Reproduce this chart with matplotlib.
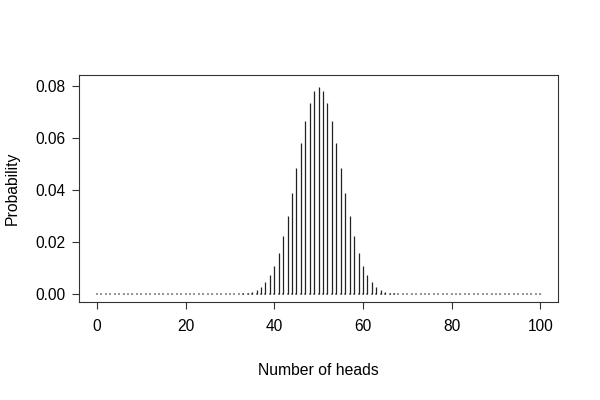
"""Binomial(100, 0.5) probability mass function drawn as histogram-like spikes."""
import matplotlib

matplotlib.use("Agg")
import matplotlib.pyplot as plt

# Number of heads 0..100
heads = list(range(101))

# Probabilities (symmetric around 50)
half_probs = [
    0.0, 0.0, 0.0, 0.0, 0.0, 0.0, 0.0, 0.0, 0.0, 0.0,
    0.0, 0.0, 0.0, 0.0, 0.0, 0.0, 0.0, 0.0, 0.0, 0.0,
    0.0, 0.0, 0.0, 0.0, 0.0, 0.000001, 0.000001, 0.000002, 0.000004, 0.000010,
    0.000023, 0.000053, 0.000113, 0.000233, 0.000458, 0.000864, 0.001563, 0.002700,
    0.004473, 0.007111, 0.010844, 0.015869, 0.022292, 0.030069, 0.038953, 0.048474,
    0.057958, 0.066572, 0.073527, 0.078029,
]
peak = [0.079589]
probs = half_probs + peak + half_probs[::-1]

plt.rcParams["font.family"] = ["Liberation Sans", "DejaVu Sans"]

fig = plt.figure(figsize=(6, 4), dpi=100)
ax = fig.add_axes([0.132, 0.245, 0.798, 0.5675])

ax.vlines(heads, 0, probs, colors="#222222", linewidth=0.9)
ax.scatter(heads, [0] * len(heads), s=0.9, marker="s", color="#999999", linewidths=0)

ax.set_xlim(-4, 104)
ax.set_ylim(-0.0031, 0.0842)
ax.set_xticks([0, 20, 40, 60, 80, 100])
ax.set_yticks([0.0, 0.02, 0.04, 0.06, 0.08])
ax.set_yticklabels(["0.00", "0.02", "0.04", "0.06", "0.08"])
ax.tick_params(direction="out", length=5, width=0.8, labelsize=11.2, color="#333333")
ax.tick_params(axis="x", pad=7)
ax.tick_params(axis="y", pad=5)
for sp in ax.spines.values():
    sp.set_linewidth(0.8)
    sp.set_color("#333333")

ax.set_xlabel("Number of heads", fontsize=11.3, labelpad=21)
ax.set_ylabel("Probability", fontsize=11.3, labelpad=11)

fig.savefig("out.png", dpi=100, facecolor="white")
